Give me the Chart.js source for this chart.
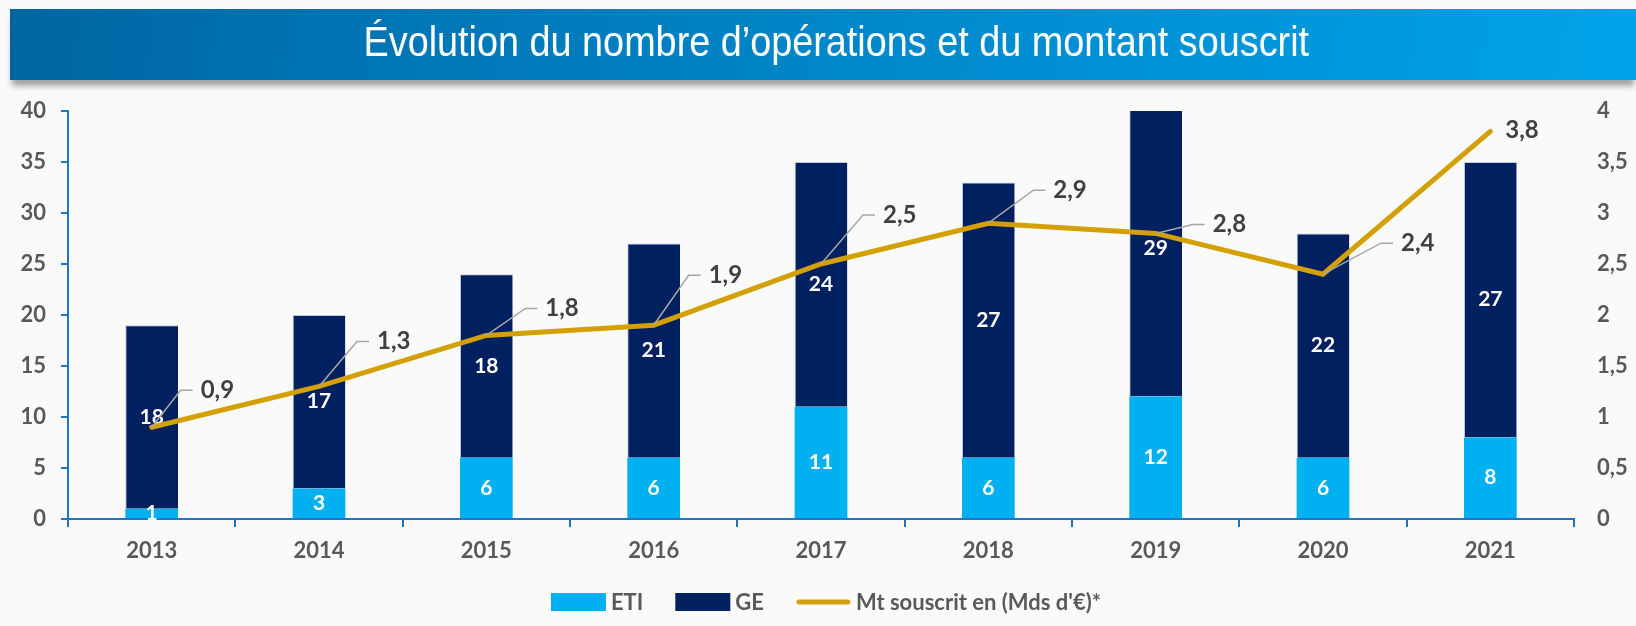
<!DOCTYPE html>
<html lang="fr">
<head>
<meta charset="utf-8">
<title>Évolution du nombre d’opérations et du montant souscrit</title>
<script src="https://cdn.jsdelivr.net/npm/chart.js@4.4.1/dist/chart.umd.min.js"></script>
<style>
  html, body { margin: 0; padding: 0; background: #fafafa; }
  body { width: 1636px; height: 626px; position: relative; overflow: hidden; }
  #chartBox { position: absolute; left: 0; top: 0; width: 1636px; height: 626px; }
  #titleBar {
    position: absolute; left: 10px; top: 9px; width: 1626px; height: 71px; z-index: 2;
    background: linear-gradient(100deg, #0066a2 0%, #0086c9 50%, #00a3e8 100%);
    box-shadow: 0 8px 6px -2px rgba(0, 0, 0, 0.35);
    text-align: center;
  }
  #titleBar h1 {
    display: inline-block; margin: 0 0 0 26px; color: #fff;
    font: 400 42px "Liberation Sans Narrow", "Liberation Sans", sans-serif;
    line-height: 65px; transform: scaleX(0.9); transform-origin: center;
  }
</style>
</head>
<body>
<div id="chartBox"><canvas id="opsChart"></canvas></div>
<div id="titleBar"><h1>Évolution du nombre d’opérations et du montant souscrit</h1></div>

<script>
// Data
const years = ["2013", "2014", "2015", "2016", "2017", "2018", "2019", "2020", "2021"];
const etiCounts = [1, 3, 6, 6, 11, 6, 12, 6, 8];
const geCounts = [18, 17, 18, 21, 24, 27, 29, 22, 27];
const amounts = [0.9, 1.3, 1.8, 1.9, 2.5, 2.9, 2.8, 2.4, 3.8];

// Label placement for the amount line (label left dx, centre dy, leader line)
const amountLabelDx = [49, 58, 59, 55, 62, 65, 57, 78, 15];
const amountLabelDy = [-37, -45, -27, -50, -49, -33, -9, -31, -1];
const amountLeader = [true, true, true, true, true, true, true, true, false];

const axisBlue = "#2176c4";
const tickGrey = "#595959";
const fontFamily = "Lato, 'Open Sans', sans-serif";

const frNumber = (v) => String(v).replace(".", ",");

// Values inside the bars, drawn right after each bar dataset
const barLabels = {
  id: "barLabels",
  afterDatasetDraw(chart, args) {
    const ds = chart.data.datasets[args.index];
    if (ds.type !== "bar") return;
    const ctx = chart.ctx;
    ctx.save();
    ctx.fillStyle = "#ffffff";
    ctx.font = "bold 21px " + fontFamily;
    ctx.textAlign = "center";
    ctx.textBaseline = "middle";
    args.meta.data.forEach(function (bar, i) {
      const y = (bar.y + bar.base) / 2;
      ctx.fillText(String(ds.data[i]), bar.x, y);
    });
    ctx.restore();
  },
};

// Amount labels with grey leader lines
const lineLabels = {
  id: "lineLabels",
  afterDatasetsDraw(chart) {
    const idx = chart.data.datasets.findIndex((d) => d.type === "line");
    const meta = chart.getDatasetMeta(idx);
    const ctx = chart.ctx;
    ctx.save();
    ctx.font = "bold 24px " + fontFamily;
    ctx.textBaseline = "middle";
    ctx.textAlign = "left";
    meta.data.forEach(function (pt, i) {
      const lx = pt.x + amountLabelDx[i];
      const ly = pt.y + amountLabelDy[i];
      if (amountLeader[i]) {
        ctx.strokeStyle = "#a6a6a6";
        ctx.lineWidth = 1.5;
        ctx.beginPath();
        ctx.moveTo(pt.x, pt.y);
        ctx.lineTo(lx - 20, ly);
        ctx.lineTo(lx - 8, ly);
        ctx.stroke();
      }
      ctx.fillStyle = "#404040";
      ctx.fillText(frNumber(amounts[i]), lx, ly);
    });
    ctx.restore();
  },
};

// Legend drawn by hand so it keeps the ETI, GE, line order
const bottomLegend = {
  id: "bottomLegend",
  afterDraw(chart) {
    const ctx = chart.ctx;
    const items = [
      { text: "ETI", kind: "box", color: chart.data.datasets[1].backgroundColor },
      { text: "GE", kind: "box", color: chart.data.datasets[2].backgroundColor },
      { text: chart.data.datasets[0].label, kind: "line", color: chart.data.datasets[0].borderColor },
    ];
    const symW = 55, gapText = 5, gapItem = 32, centerX = 826, cy = 602;
    ctx.save();
    ctx.font = "bold 22px " + fontFamily;
    ctx.textBaseline = "middle";
    let total = 0;
    items.forEach(function (it, i) {
      it.w = ctx.measureText(it.text).width;
      total += symW + gapText + it.w + (i < items.length - 1 ? gapItem : 0);
    });
    let x = centerX - total / 2;
    items.forEach(function (it) {
      if (it.kind === "box") {
        ctx.fillStyle = it.color;
        ctx.fillRect(x, cy - 9, symW, 18);
      } else {
        ctx.strokeStyle = it.color;
        ctx.lineWidth = 5;
        ctx.lineCap = "round";
        ctx.beginPath();
        ctx.moveTo(x + 3, cy);
        ctx.lineTo(x + symW - 3, cy);
        ctx.stroke();
      }
      x += symW + gapText;
      ctx.fillStyle = tickGrey;
      ctx.fillText(it.text, x, cy + 1);
      x += it.w + gapItem;
    });
    ctx.restore();
  },
};

const tickFont = { family: fontFamily, weight: "bold", size: 22 };

new Chart(document.getElementById("opsChart"), {
  data: {
    labels: years,
    datasets: [
      {
        type: "line",
        label: "Mt souscrit en (Mds d'€)*",
        data: amounts,
        yAxisID: "y1",
        borderColor: "#d4a000",
        backgroundColor: "#d4a000",
        borderWidth: 5,
        borderCapStyle: "round",
        pointRadius: 0,
        tension: 0,
        clip: false,
      },
      {
        type: "bar",
        label: "ETI",
        data: etiCounts,
        yAxisID: "y",
        backgroundColor: "#00b0f0",
        barPercentage: 0.315,
        categoryPercentage: 1,
        clip: 0,
      },
      {
        type: "bar",
        label: "GE",
        data: geCounts,
        yAxisID: "y",
        backgroundColor: "#002060",
        borderColor: "rgba(150,170,210,0.6)",
        borderWidth: { top: 1, left: 1, right: 0, bottom: 0 },
        borderSkipped: false,
        barPercentage: 0.315,
        categoryPercentage: 1,
        clip: 0,
      },
    ],
  },
  options: {
    responsive: true,
    maintainAspectRatio: false,
    animation: false,
    layout: { padding: { top: 111, left: 0, right: 0, bottom: 0 } },
    plugins: {
      legend: { display: false },
      tooltip: { enabled: false },
    },
    scales: {
      x: {
        stacked: true,
        z: 1,
        grid: {
          display: true,
          drawOnChartArea: false,
          drawTicks: true,
          tickLength: 8,
          color: axisBlue,
          lineWidth: 2,
          offset: true,
        },
        border: { display: true, color: axisBlue, width: 2 },
        ticks: { color: tickGrey, font: tickFont, padding: 11 },
        afterFit(scale) {
          scale.height = 107;
        },
      },
      y: {
        position: "left",
        stacked: true,
        min: 0,
        max: 40,
        grid: {
          drawOnChartArea: false,
          drawTicks: true,
          tickLength: 7,
          color: axisBlue,
          lineWidth: 2,
        },
        border: { display: true, color: axisBlue, width: 2 },
        ticks: { stepSize: 5, color: tickGrey, font: tickFont, padding: 15 },
        afterFit(scale) {
          scale.width = 68;
        },
      },
      y1: {
        position: "right",
        min: 0,
        max: 4,
        grid: { display: false, drawTicks: false },
        border: { display: false },
        ticks: {
          stepSize: 0.5,
          color: tickGrey,
          font: tickFont,
          padding: 23,
          callback: (v) => frNumber(v),
        },
        afterFit(scale) {
          scale.width = 62;
        },
      },
    },
  },
  plugins: [barLabels, lineLabels, bottomLegend],
});
</script>
</body>
</html>
